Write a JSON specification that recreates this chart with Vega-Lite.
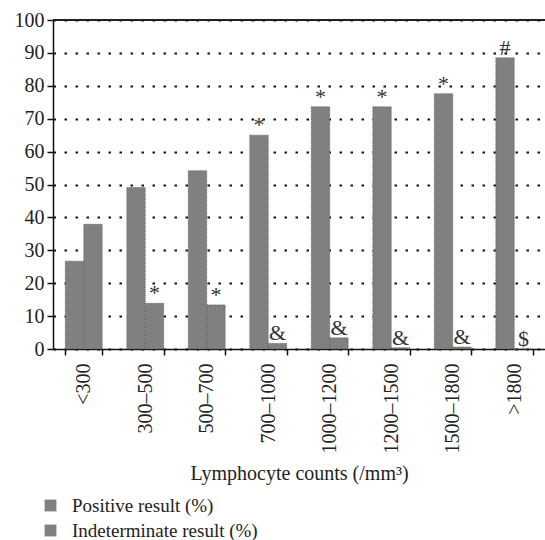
{
  "$schema": "https://vega.github.io/schema/vega-lite/v6.json",
  "autosize": {"type": "none"},
  "padding": {"left": 53, "top": 20, "right": 0, "bottom": 191},
  "width": 492,
  "height": 329,
  "config": {
    "font": "Liberation Serif",
    "view": {"stroke": null},
    "axis": {"labelColor": "#222", "titleColor": "#222", "labelFont": "Liberation Serif", "titleFont": "Liberation Serif"},
    "legend": {"labelFont": "Liberation Serif"}
  },
  "data": {
    "values": [
      {"group": "<300", "series": "Positive result (%)", "value": 26.7, "mark": ""},
      {"group": "<300", "series": "Indeterminate result (%)", "value": 37.9, "mark": ""},
      {"group": "300–500", "series": "Positive result (%)", "value": 49.1, "mark": ""},
      {"group": "300–500", "series": "Indeterminate result (%)", "value": 13.9, "mark": "*"},
      {"group": "500–700", "series": "Positive result (%)", "value": 54.2, "mark": ""},
      {"group": "500–700", "series": "Indeterminate result (%)", "value": 13.4, "mark": "*"},
      {"group": "700–1000", "series": "Positive result (%)", "value": 65.0, "mark": "*"},
      {"group": "700–1000", "series": "Indeterminate result (%)", "value": 1.7, "mark": "&"},
      {"group": "1000–1200", "series": "Positive result (%)", "value": 73.6, "mark": "*"},
      {"group": "1000–1200", "series": "Indeterminate result (%)", "value": 3.4, "mark": "&"},
      {"group": "1200–1500", "series": "Positive result (%)", "value": 73.6, "mark": "*"},
      {"group": "1200–1500", "series": "Indeterminate result (%)", "value": 0.4, "mark": "&"},
      {"group": "1500–1800", "series": "Positive result (%)", "value": 77.6, "mark": "*"},
      {"group": "1500–1800", "series": "Indeterminate result (%)", "value": 0.6, "mark": "&"},
      {"group": ">1800", "series": "Positive result (%)", "value": 88.5, "mark": "#"},
      {"group": ">1800", "series": "Indeterminate result (%)", "value": 0, "mark": "$"}
    ]
  },
  "encoding": {
    "y": {
      "field": "value",
      "type": "quantitative",
      "scale": {"domain": [0, 100], "nice": false},
      "axis": {
        "title": null,
        "values": [0, 10, 20, 30, 40, 50, 60, 70, 80, 90, 100],
        "labelFontSize": 20,
        "labelPadding": 3,
        "tickSize": 6,
        "tickColor": "#111",
        "tickWidth": 1.5,
        "domainColor": "#111",
        "domainWidth": 1.5,
        "grid": true,
        "gridColor": "#111",
        "gridWidth": 1.8,
        "gridDash": [2.5, 8.5]
      }
    }
  },
  "layer": [
    {
      "mark": {"type": "bar", "stroke": "#555", "strokeWidth": 0.8, "strokeDash": [1, 1]},
      "encoding": {
        "x": {
          "field": "group",
          "type": "nominal",
          "sort": ["<300", "300–500", "500–700", "700–1000", "1000–1200", "1200–1500", "1500–1800", ">1800"],
          "scale": {"paddingInner": 0.4, "paddingOuter": 0.2},
          "axis": {
            "title": "Lymphocyte counts (/mm³)",
            "titleFontSize": 20,
            "titleFontWeight": "normal",
            "titlePadding": 10,
            "labelAngle": -90,
            "labelFontSize": 20,
            "labelPadding": 8,
            "labelLimit": 0,
            "grid": false,
            "tickBand": "extent",
            "tickSize": 6,
            "tickColor": "#111",
            "tickWidth": 1.5,
            "domainColor": "#111",
            "domainWidth": 1.5
          }
        },
        "xOffset": {
          "field": "series",
          "type": "nominal",
          "sort": ["Positive result (%)", "Indeterminate result (%)"],
          "scale": {"paddingInner": 0, "paddingOuter": 0}
        },
        "color": {
          "field": "series",
          "type": "nominal",
          "sort": ["Positive result (%)", "Indeterminate result (%)"],
          "scale": {"range": ["#808080", "#808080"]},
          "legend": {
            "title": null,
            "orient": "none",
            "legendX": -12,
            "legendY": 476,
            "symbolType": "square",
            "symbolSize": 140,
            "symbolStrokeWidth": 0,
            "labelFontSize": 19,
            "labelColor": "#222",
            "labelOffset": 12,
            "labelLimit": 0,
            "rowPadding": 5
          }
        }
      }
    },
    {
      "mark": {"type": "text", "baseline": "alphabetic", "dy": -3, "fontSize": 22, "color": "#333", "font": "Liberation Serif"},
      "encoding": {
        "x": {
          "field": "group",
          "type": "nominal",
          "sort": ["<300", "300–500", "500–700", "700–1000", "1000–1200", "1200–1500", "1500–1800", ">1800"]
        },
        "xOffset": {
          "field": "series",
          "type": "nominal",
          "sort": ["Positive result (%)", "Indeterminate result (%)"]
        },
        "text": {"field": "mark"}
      }
    },
    {
      "mark": {"type": "rule", "color": "#222", "strokeWidth": 1.5},
      "encoding": {
        "y": {"datum": 100}
      }
    }
  ]
}
